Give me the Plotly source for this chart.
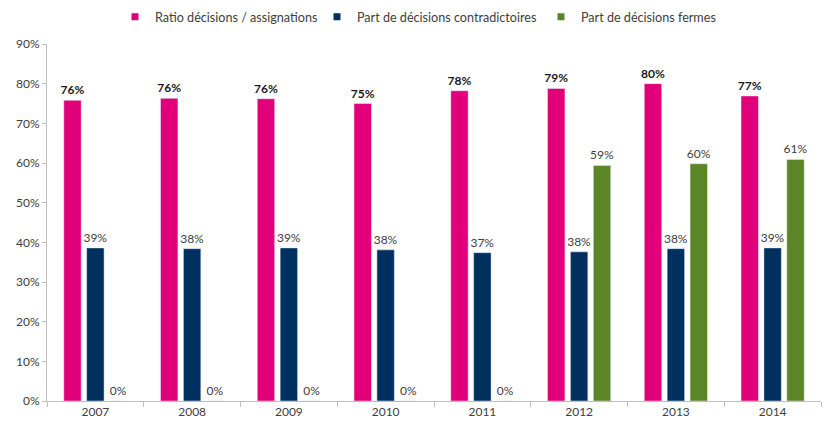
import plotly.graph_objects as go

years = ["2007", "2008", "2009", "2010", "2011", "2012", "2013", "2014"]
ratio = [0.758, 0.763, 0.762, 0.750, 0.782, 0.788, 0.800, 0.769]
contradictoires = [0.386, 0.384, 0.386, 0.381, 0.374, 0.376, 0.384, 0.386]
fermes = [0, 0, 0, 0, 0, 0.594, 0.598, 0.609]

names = ["Ratio décisions / assignations", "Part de décisions contradictoires", "Part de décisions fermes"]
colors = ["#E2007A", "#00305F", "#5B8526"]
series = [ratio, contradictoires, fermes]
label_tpl = ["<b>%{y:.0%}</b>", "%{y:.0%}", "%{y:.0%}"]
label_col = ["#1a1a1a", "#404040", "#404040"]

# left edge of legend text (container px)
legend_text_x = [151, 353, 577]

fig = go.Figure()
for i in range(3):
    fig.add_trace(go.Bar(x=years, y=series[i], name=names[i], marker_color=colors[i],
                         texttemplate=label_tpl[i], textposition="outside",
                         constraintext="none", textfont=dict(color=label_col[i], size=12),
                         cliponaxis=False, showlegend=False))
for i in range(3):
    lg = "legend" if i == 0 else f"legend{i+1}"
    fig.add_trace(go.Scatter(x=[None], y=[None], mode="markers", name=names[i],
                             marker=dict(symbol="square", size=7, color=colors[i]),
                             legend=lg, showlegend=True))

leg_common = dict(orientation="h", yref="container", y=0.995, yanchor="top", xref="container",
                  xanchor="left", font=dict(size=12.6, color="#404040"), itemwidth=30,
                  bgcolor="rgba(0,0,0,0)")
fig.update_layout(
    width=822, height=425,
    margin=dict(l=47, r=1, t=44, b=24),
    paper_bgcolor="white", plot_bgcolor="white",
    font=dict(family="Lato, Open Sans, sans-serif", size=12, color="#404040"),
    barmode="group", bargap=0.29, bargroupgap=0.24,
    legend=dict(x=(legend_text_x[0] - 36) / 822, **leg_common),
    legend2=dict(x=(legend_text_x[1] - 36) / 822, **leg_common),
    legend3=dict(x=(legend_text_x[2] - 36) / 822, **leg_common),
)
fig.update_xaxes(showline=True, linecolor="#BFBFBF", ticks="outside", tickson="boundaries",
                 tickcolor="#BFBFBF", ticklen=5, showgrid=False)
fig.update_yaxes(range=[0, 0.9], dtick=0.1, tickformat=".0%", showline=True, linecolor="#BFBFBF",
                 ticks="outside", tickcolor="#BFBFBF", ticklen=4, showgrid=False, zeroline=False)

fig.write_html("out.html")
